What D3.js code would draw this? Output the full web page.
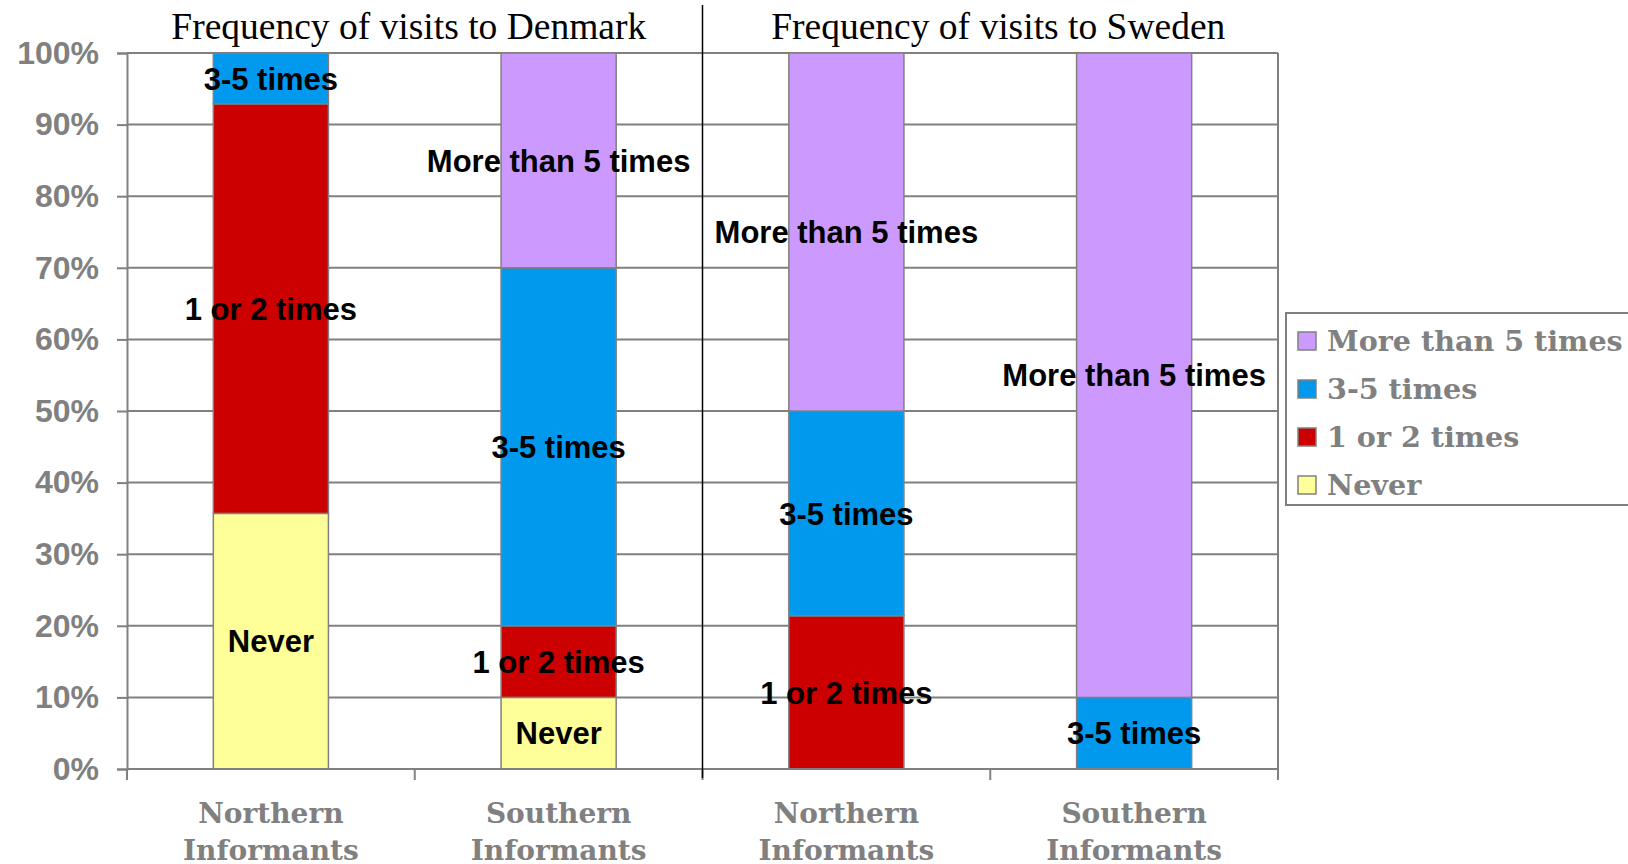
<!DOCTYPE html>
<html><head><meta charset="utf-8">
<script src="https://cdn.jsdelivr.net/npm/d3@7"></script>
<style>body{margin:0;background:#fff}svg{display:block}</style>
</head><body>
<svg id="c" width="1628" height="864"></svg>
<script>
const categories = ["Northern|Informants","Southern|Informants","Northern|Informants","Southern|Informants"];
const panelTitles = ["Frequency of visits to Denmark","Frequency of visits to Sweden"];
const seriesNames = ["Never","1 or 2 times","3-5 times","More than 5 times"];
const seriesColors = ["#FFFF99","#CC0000","#0099EE","#CC99FF"];
const never = [35.7, 10, 0, 0];
const once = [57.2, 10, 21.4, 0];
const threeFive = [7.1, 50, 28.6, 10];
const moreThanFive = [0, 30, 50, 90];
const yTicks = [0,10,20,30,40,50,60,70,80,90,100];

const seriesValues = [never, once, threeFive, moreThanFive];
const table = categories.map((c,i)=>{const o={i}; seriesNames.forEach((s,k)=>o[s]=seriesValues[k][i]); return o;});
const stacked = d3.stack().keys(seriesNames)(table);

const svg = d3.select("#c");
const L=127, R=1278, T=53, B=769;
const x = d3.scaleBand().domain(d3.range(categories.length)).range([L,R]).paddingInner(0.6).paddingOuter(0.3);
const y = d3.scaleLinear().domain([0,100]).range([B,T]);
const gray="#808080";

// gridlines
svg.append("g").selectAll("line").data(yTicks).join("line")
  .attr("x1",L).attr("x2",R).attr("y1",d=>y(d)).attr("y2",d=>y(d))
  .attr("stroke",gray).attr("stroke-width",2);
// right border
svg.append("line").attr("x1",R).attr("x2",R).attr("y1",T).attr("y2",B).attr("stroke",gray).attr("stroke-width",2);

// y axis
const yAxis = svg.append("g").attr("transform",`translate(${L},0)`)
  .call(d3.axisLeft(y).tickValues(yTicks).tickFormat(d=>d+"%").tickSize(10).tickPadding(18));
yAxis.select(".domain").attr("stroke",gray).attr("stroke-width",2);
yAxis.selectAll(".tick line").attr("stroke",gray).attr("stroke-width",2);
yAxis.selectAll(".tick text").attr("fill",gray).style("font-family","Liberation Sans, Arial, sans-serif")
  .style("font-weight","bold").style("font-size","32px");

// x axis ticks at band boundaries
const step = x.step();
const bounds = d3.range(categories.length+1).map(i=>L+i*step);
svg.append("g").selectAll("line").data(bounds).join("line")
  .attr("x1",d=>d).attr("x2",d=>d).attr("y1",B).attr("y2",B+11)
  .attr("stroke",gray).attr("stroke-width",2);

// bars
const g = svg.append("g");
stacked.forEach((layer,k)=>{
  g.append("g").selectAll("rect").data(layer.filter(d=>d[1]-d[0]>0)).join("rect")
    .attr("x",d=>x(d.data.i)).attr("width",x.bandwidth())
    .attr("y",d=>y(d[1])).attr("height",d=>y(d[0])-y(d[1]))
    .attr("fill",seriesColors[k]).attr("stroke",gray).attr("stroke-width",1.5);
});
// x axis baseline over bars
svg.append("line").attr("x1",L).attr("x2",R).attr("y1",B).attr("y2",B).attr("stroke",gray).attr("stroke-width",2);

// data labels
stacked.forEach((layer,k)=>{
  g.append("g").selectAll("text").data(layer.filter(d=>d[1]-d[0]>0)).join("text")
    .attr("x",d=>x(d.data.i)+x.bandwidth()/2).attr("y",d=>y((d[0]+d[1])/2))
    .attr("dy","0.36em").attr("text-anchor","middle")
    .style("font-family","Liberation Sans, Arial, sans-serif").style("font-weight","bold")
    .style("font-size","31px").attr("fill","#000").text(seriesNames[k]);
});

// category labels
const serif = "DejaVu Serif, Georgia, serif";
svg.append("g").selectAll("text").data(categories).join("text")
  .attr("x",(d,i)=>x(i)+x.bandwidth()/2).attr("y",823).attr("text-anchor","middle")
  .style("font-family",serif).style("font-weight","bold").style("font-size","28px").attr("fill",gray)
  .each(function(d){const t=d3.select(this); d.split("|").forEach((p,j)=>t.append("tspan").attr("x",t.attr("x")).attr("dy",j?"1.33em":0).text(p));});

// panel titles
const half = step*2;
svg.append("g").selectAll("text").data(panelTitles).join("text")
  .attr("x",(d,i)=>L+half*i+half/2+ (i? 8:-6)).attr("y",39).attr("text-anchor","middle")
  .style("font-family","Liberation Serif, Times New Roman, serif").style("font-size","37.5px").attr("fill","#000").text(d=>d);

// divider
svg.append("line").attr("x1",L+half).attr("x2",L+half).attr("y1",5).attr("y2",778).attr("stroke","#000").attr("stroke-width",1.5);

// legend
const lg = svg.append("g");
lg.append("rect").attr("x",1286).attr("y",313).attr("width",360).attr("height",192).attr("fill","#fff").attr("stroke",gray).attr("stroke-width",2);
const legendOrder = [3,2,1,0];
lg.selectAll("g.item").data(legendOrder).join("g").attr("class","item")
  .attr("transform",(d,j)=>`translate(1298,${341+j*48})`)
  .each(function(k){
    const it=d3.select(this);
    it.append("rect").attr("x",0).attr("y",-9).attr("width",18).attr("height",18).attr("fill",seriesColors[k]).attr("stroke",gray).attr("stroke-width",1.5);
    it.append("text").attr("x",29).attr("y",0).attr("dy","0.36em").style("font-family",serif).style("font-weight","bold")
      .style("font-size","28.6px").attr("fill",gray).text(seriesNames[k]);
  });
</script>
</body></html>
